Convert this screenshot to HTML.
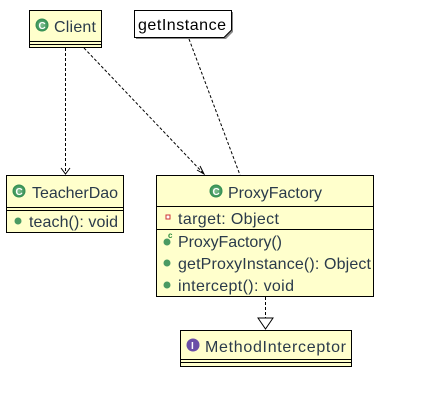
<!DOCTYPE html>
<html><head><style>body{margin:0;background:#fff}svg{display:block}text{font-family:"Liberation Sans",sans-serif;font-size:16px;fill:#2a3a4a}</style></head><body>
<svg width="426" height="414" viewBox="0 0 426 414" xmlns="http://www.w3.org/2000/svg">
<defs><radialGradient id="g"><stop offset="0" stop-color="#7fbf8f"/><stop offset="1" stop-color="#2e8b4e"/></radialGradient></defs>
<g fill="none" stroke="#000" stroke-width="1" stroke-dasharray="3,2">
<line x1="65.5" y1="48" x2="65.5" y2="174"/>
<line x1="84" y1="48" x2="204" y2="174"/>
<line x1="189" y1="39" x2="240" y2="175"/>
<line x1="265.5" y1="297" x2="265.5" y2="318"/>
</g>
<g fill="none" stroke="#000">
<polyline points="61,168 65.5,174 70,168"/>
<polyline points="197,170 204,174 200,166"/>
<polygon points="258,318 273,318 265.5,329" fill="#fff"/>
</g>
<polygon points="136,12 233,12 233,32 226,39 136,39" fill="#888"/>
<polygon points="134.5,10.5 231.5,10.5 231.5,30 224,37.5 134.5,37.5" fill="#fff" stroke="#000"/>
<text x="138" y="30" style="fill:#000" textLength="88">getInstance</text>
<rect x="29.5" y="10.5" width="72" height="37" fill="#ffffcc" stroke="#000"/>
<line x1="29" y1="41.5" x2="101" y2="41.5" stroke="#000"/><line x1="29" y1="44.5" x2="101" y2="44.5" stroke="#000"/>
<circle cx="42" cy="25" r="6.5" fill="url(#g)"/><text x="38.5" y="29" style="font-size:10px;fill:#fff;font-weight:bold">C</text>
<text x="54" y="32" textLength="42">Client</text>
<rect x="6.5" y="175.5" width="117" height="57" fill="#ffffcc" stroke="#000"/>
<line x1="6" y1="207.5" x2="123" y2="207.5" stroke="#000"/><line x1="6" y1="210.5" x2="123" y2="210.5" stroke="#000"/>
<circle cx="19" cy="191" r="6.5" fill="url(#g)"/><text x="15.5" y="195" style="font-size:10px;fill:#fff;font-weight:bold">C</text>
<text x="32" y="198" textLength="86">TeacherDao</text>
<circle cx="18" cy="221" r="3.5" fill="#4a9a62"/>
<text x="29" y="227" textLength="89">teach(): void</text>
<rect x="156.5" y="175.5" width="217" height="121" fill="#ffffcc" stroke="#000"/>
<line x1="156" y1="206.5" x2="373" y2="206.5" stroke="#000"/><line x1="156" y1="229.5" x2="373" y2="229.5" stroke="#000"/>
<circle cx="216" cy="191" r="6.5" fill="url(#g)"/><text x="212.5" y="195" style="font-size:10px;fill:#fff;font-weight:bold">C</text>
<text x="228" y="198" textLength="94">ProxyFactory</text>
<rect x="166" y="215" width="4" height="4" fill="#fff" stroke="#c33"/>
<text x="178" y="224" textLength="101">target: Object</text>
<circle cx="167" cy="242" r="3.5" fill="#4a9a62"/><text x="168" y="238" style="font-size:8px;fill:#2a8a3a;font-weight:bold">c</text>
<text x="178" y="247" textLength="104">ProxyFactory()</text>
<circle cx="167" cy="263" r="3.5" fill="#4a9a62"/>
<text x="178" y="269" textLength="193">getProxyInstance(): Object</text>
<circle cx="167" cy="285" r="3.5" fill="#4a9a62"/>
<text x="178" y="291" textLength="116">intercept(): void</text>
<rect x="180.5" y="330.5" width="171" height="36" fill="#ffffcc" stroke="#000"/>
<line x1="180" y1="359.5" x2="351" y2="359.5" stroke="#000"/><line x1="180" y1="362.5" x2="351" y2="362.5" stroke="#000"/>
<circle cx="193" cy="345" r="6.5" fill="#6a4fa8"/><text x="191" y="349" style="font-size:10px;fill:#fff;font-weight:bold">I</text>
<text x="205" y="352" textLength="141">MethodInterceptor</text>
</svg>
</body></html>
